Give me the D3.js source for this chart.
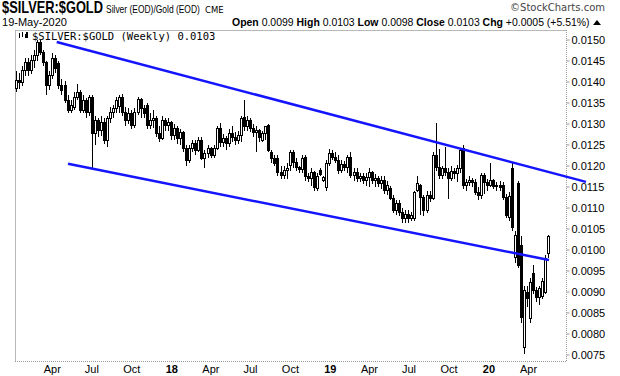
<!DOCTYPE html>
<html>
<head>
<meta charset="utf-8">
<script src="https://cdn.jsdelivr.net/npm/d3@7"></script>
<style>
  body { margin: 0; background: #fff; }
  svg { display: block; }
</style>
</head>
<body>
<div id="chart"></div>
<script>
// Weekly $SILVER:$GOLD candles, first bar = week ending 13-Jan-2017
const firstWeek = "2017-01-13";

const opens = [
  0.01383,0.01402,0.01398,0.01426,0.01445,0.01426,0.01450,0.01462,0.01493,0.01469,
  0.01445,0.01390,0.01414,0.01455,0.01443,0.01390,0.01390,0.01355,0.01331,0.01338,
  0.01362,0.01374,0.01331,0.01355,0.01326,0.01362,0.01276,0.01307,0.01283,0.01302,
  0.01260,0.01312,0.01326,0.01336,0.01340,0.01362,0.01326,0.01307,0.01324,0.01295,
  0.01326,0.01357,0.01336,0.01343,0.01295,0.01307,0.01312,0.01276,0.01264,0.01307,
  0.01295,0.01302,0.01271,0.01288,0.01264,0.01279,0.01240,0.01212,0.01240,0.01252,
  0.01236,0.01260,0.01217,0.01229,0.01240,0.01224,0.01240,0.01288,0.01255,0.01264,
  0.01252,0.01276,0.01267,0.01260,0.01271,0.01314,0.01293,0.01307,0.01288,0.01279,
  0.01283,0.01260,0.01276,0.01295,0.01231,0.01217,0.01217,0.01183,0.01176,0.01188,
  0.01200,0.01231,0.01207,0.01195,0.01190,0.01219,0.01174,0.01169,0.01183,0.01145,
  0.01188,0.01164,0.01148,0.01205,0.01229,0.01219,0.01212,0.01188,0.01202,0.01195,
  0.01219,0.01176,0.01183,0.01169,0.01174,0.01164,0.01171,0.01183,0.01164,0.01169,
  0.01157,0.01164,0.01140,0.01145,0.01121,0.01093,0.01110,0.01088,0.01074,0.01083,
  0.01074,0.01074,0.01140,0.01152,0.01124,0.01093,0.01129,0.01121,0.01224,0.01195,
  0.01176,0.01193,0.01183,0.01169,0.01186,0.01181,0.01193,0.01240,0.01152,0.01160,
  0.01164,0.01160,0.01136,0.01129,0.01176,0.01160,0.01152,0.01164,0.01150,0.01152,
  0.01152,0.01124,0.01076,0.01193,0.00981,0.01157,0.01010,0.00767,0.00898,0.00836,
  0.00943,0.00902,0.00886,0.00888,0.00898,0.00990
];
const highs = [
  0.01426,0.01421,0.01438,0.01455,0.01455,0.01462,0.01474,0.01498,0.01498,0.01474,
  0.01450,0.01426,0.01469,0.01462,0.01450,0.01407,0.01402,0.01367,0.01355,0.01374,
  0.01395,0.01379,0.01367,0.01360,0.01367,0.01369,0.01319,0.01314,0.01317,0.01312,
  0.01319,0.01340,0.01345,0.01364,0.01369,0.01371,0.01340,0.01336,0.01331,0.01336,
  0.01364,0.01360,0.01345,0.01350,0.01326,0.01331,0.01319,0.01295,0.01319,0.01314,
  0.01312,0.01307,0.01300,0.01295,0.01288,0.01283,0.01248,0.01248,0.01260,0.01260,
  0.01269,0.01267,0.01236,0.01248,0.01245,0.01250,0.01295,0.01302,0.01276,0.01271,
  0.01288,0.01293,0.01279,0.01283,0.01319,0.01357,0.01319,0.01314,0.01298,0.01293,
  0.01288,0.01283,0.01295,0.01300,0.01236,0.01224,0.01224,0.01200,0.01200,0.01207,
  0.01236,0.01236,0.01217,0.01200,0.01224,0.01224,0.01183,0.01193,0.01188,0.01181,
  0.01195,0.01176,0.01212,0.01240,0.01236,0.01231,0.01224,0.01212,0.01210,0.01224,
  0.01233,0.01193,0.01193,0.01183,0.01183,0.01181,0.01193,0.01188,0.01179,0.01174,
  0.01174,0.01174,0.01164,0.01152,0.01129,0.01117,0.01117,0.01100,0.01093,0.01093,
  0.01090,0.01140,0.01176,0.01157,0.01129,0.01140,0.01140,0.01231,0.01302,0.01240,
  0.01200,0.01243,0.01193,0.01198,0.01195,0.01202,0.01240,0.01248,0.01169,0.01174,
  0.01171,0.01169,0.01150,0.01183,0.01181,0.01169,0.01207,0.01169,0.01160,0.01164,
  0.01160,0.01131,0.01136,0.01207,0.01045,0.01164,0.01031,0.00914,0.00914,0.00931,
  0.00962,0.00910,0.00914,0.00931,0.00986,0.01034
];
const lows = [
  0.01374,0.01383,0.01390,0.01414,0.01414,0.01417,0.01431,0.01450,0.01462,0.01438,
  0.01367,0.01379,0.01407,0.01421,0.01383,0.01367,0.01348,0.01324,0.01324,0.01331,
  0.01355,0.01324,0.01326,0.01312,0.01319,0.01193,0.01248,0.01267,0.01271,0.01252,
  0.01245,0.01302,0.01312,0.01326,0.01324,0.01317,0.01295,0.01298,0.01288,0.01290,
  0.01321,0.01312,0.01312,0.01288,0.01288,0.01290,0.01267,0.01255,0.01260,0.01283,
  0.01283,0.01260,0.01260,0.01252,0.01248,0.01231,0.01200,0.01205,0.01231,0.01224,
  0.01231,0.01212,0.01195,0.01217,0.01217,0.01219,0.01236,0.01245,0.01243,0.01236,
  0.01245,0.01255,0.01248,0.01252,0.01255,0.01283,0.01283,0.01279,0.01267,0.01231,
  0.01255,0.01255,0.01260,0.01231,0.01207,0.01198,0.01174,0.01169,0.01169,0.01169,
  0.01188,0.01193,0.01188,0.01183,0.01183,0.01164,0.01160,0.01152,0.01140,0.01140,
  0.01174,0.01160,0.01140,0.01200,0.01212,0.01205,0.01179,0.01183,0.01188,0.01183,
  0.01171,0.01164,0.01160,0.01160,0.01155,0.01152,0.01150,0.01155,0.01150,0.01150,
  0.01145,0.01133,0.01129,0.01117,0.01086,0.01083,0.01079,0.01064,0.01064,0.01064,
  0.01067,0.01069,0.01136,0.01081,0.01079,0.01088,0.01112,0.01119,0.01188,0.01169,
  0.01169,0.01174,0.01121,0.01164,0.01169,0.01160,0.01183,0.01145,0.01140,0.01152,
  0.01150,0.01129,0.01119,0.01121,0.01133,0.01140,0.01148,0.01145,0.01140,0.01140,
  0.01117,0.01074,0.01069,0.01045,0.00969,0.00955,0.00826,0.00752,0.00862,0.00824,
  0.00895,0.00876,0.00869,0.00881,0.00893,0.00980
];
const closes = [
  0.01402,0.01398,0.01426,0.01445,0.01426,0.01450,0.01462,0.01493,0.01469,0.01445,
  0.01390,0.01414,0.01455,0.01431,0.01390,0.01379,0.01355,0.01331,0.01343,0.01362,
  0.01374,0.01331,0.01355,0.01326,0.01362,0.01276,0.01307,0.01283,0.01302,0.01260,
  0.01312,0.01326,0.01336,0.01355,0.01362,0.01326,0.01307,0.01324,0.01295,0.01326,
  0.01357,0.01336,0.01324,0.01295,0.01307,0.01312,0.01276,0.01264,0.01307,0.01295,
  0.01302,0.01271,0.01288,0.01264,0.01279,0.01240,0.01212,0.01240,0.01252,0.01236,
  0.01260,0.01217,0.01229,0.01240,0.01224,0.01240,0.01288,0.01255,0.01264,0.01252,
  0.01276,0.01267,0.01260,0.01271,0.01312,0.01293,0.01307,0.01288,0.01279,0.01283,
  0.01267,0.01276,0.01293,0.01236,0.01217,0.01205,0.01183,0.01176,0.01188,0.01193,
  0.01231,0.01207,0.01195,0.01190,0.01217,0.01174,0.01169,0.01183,0.01148,0.01174,
  0.01179,0.01171,0.01205,0.01229,0.01219,0.01212,0.01188,0.01202,0.01195,0.01219,
  0.01176,0.01183,0.01169,0.01174,0.01164,0.01171,0.01183,0.01164,0.01169,0.01157,
  0.01164,0.01140,0.01152,0.01121,0.01093,0.01110,0.01088,0.01074,0.01083,0.01074,
  0.01081,0.01136,0.01157,0.01124,0.01093,0.01129,0.01121,0.01224,0.01195,0.01176,
  0.01193,0.01183,0.01169,0.01186,0.01181,0.01193,0.01236,0.01152,0.01160,0.01164,
  0.01160,0.01136,0.01129,0.01176,0.01160,0.01152,0.01164,0.01150,0.01152,0.01148,
  0.01124,0.01081,0.01126,0.01052,0.01033,0.00962,0.00838,0.00902,0.00883,0.00921,
  0.00902,0.00886,0.00907,0.00924,0.00979,0.01030
];

// trend lines drawn on the chart: [date, value] end points
const upperTrend = [["2017-04-17", 0.01494], ["2020-08-17", 0.01161]];
const lowerTrend = [["2017-05-13", 0.01204], ["2020-05-24", 0.00975]];

// header texts
const symbol = "$SILVER:$GOLD";
const symbolDesc = "Silver (EOD)/Gold (EOD)";
const exchange = "CME";
const headerDate = "19-May-2020";
const quote = [["Open", "0.0099"], ["High", "0.0103"], ["Low", "0.0098"], ["Close", "0.0103"], ["Chg", "+0.0005 (+5.51%)"]];
const legendText = "$SILVER:$GOLD (Weekly) 0.0103";

const width = 620, height = 376;
const plot = { left: 15, right: 566, top: 30, bottom: 361 };

const parse = d3.timeParse("%Y-%m-%d");
const start = parse(firstWeek);
const data = closes.map((c, i) => ({
  date: d3.timeDay.offset(start, 7 * i),
  open: opens[i], high: highs[i], low: lows[i], close: c
}));

const svg = d3.select("#chart").append("svg")
  .attr("width", width)
  .attr("height", height)
  .style("font-family", "'Liberation Sans', Arial, sans-serif");

const x = d3.scaleTime()
  .domain([parse("2017-01-11"), parse("2020-07-02")])
  .range([plot.left, plot.right]);

const y = d3.scaleLinear()
  .domain([0.0075, 0.0150])
  .range([354.5, 39.5]);

// ---- header: narrow type made by squeezing the text horizontally ----
function fitText(sel, px, py, target, sy) {
  const len = sel.node().getComputedTextLength();
  sel.attr("transform", `translate(${px},${py}) scale(${target / len},${sy || 1})`);
  return sel;
}
const title = svg.append("text").style("font-size", "15px").style("font-weight", "bold").text(symbol);
fitText(title, 2, 13, 101, 1.08);
const desc = svg.append("text").style("font-size", "11px").text(symbolDesc);
fitText(desc, 106, 13, 94);
svg.append("text")
  .attr("x", 205).attr("y", 13)
  .style("font-family", "'DejaVu Sans', sans-serif").style("font-size", "8.5px")
  .text(exchange);
svg.append("text")
  .attr("x", 605).attr("y", 11)
  .attr("text-anchor", "end")
  .style("font-family", "'DejaVu Sans', sans-serif").style("font-size", "10px").style("fill", "#444")
  .text("\u00A9StockCharts.com");
const dateText = svg.append("text").style("font-size", "11px").text(headerDate);
fitText(dateText, 2, 26, 65);

const q = svg.append("text").style("font-size", "11.5px");
quote.forEach((d, i) => {
  q.append("tspan").style("font-weight", "bold").text((i ? " " : "") + d[0] + " ");
  q.append("tspan").text(d[1]);
});
fitText(q, 232, 26, 358);
svg.append("path")
  .attr("d", "M593,25 L597,20 L601,25 Z")
  .attr("fill", "#000");

// ---- frame ----
const frame = svg.append("g").attr("shape-rendering", "crispEdges");
frame.append("line")
  .attr("x1", plot.left + 0.5).attr("x2", plot.left + 0.5)
  .attr("y1", plot.top).attr("y2", plot.bottom)
  .attr("stroke", "#b8b8b8");
frame.append("line")
  .attr("x1", plot.left).attr("x2", plot.right)
  .attr("y1", plot.top + 0.5).attr("y2", plot.top + 0.5)
  .attr("stroke", "#b8b8b8");
frame.append("line")
  .attr("x1", plot.right + 0.5).attr("x2", plot.right + 0.5)
  .attr("y1", plot.top).attr("y2", plot.bottom)
  .attr("stroke", "#999").attr("stroke-dasharray", "1,1");
frame.append("line")
  .attr("x1", plot.left).attr("x2", plot.right)
  .attr("y1", plot.bottom + 0.5).attr("y2", plot.bottom + 0.5)
  .attr("stroke", "#999").attr("stroke-dasharray", "1,1");

// ---- axes ----
const yAxis = svg.append("g")
  .attr("transform", `translate(${plot.right + 0.5},0)`)
  .call(d3.axisRight(y).ticks(15).tickFormat(d3.format(".4f")).tickSize(3).tickPadding(2));
yAxis.select(".domain").remove();
yAxis.selectAll(".tick line").attr("stroke", "#999");
yAxis.selectAll("text").style("font-size", "11px").attr("fill", "#000");

const lastBar = data[data.length - 1].date;
const monthTicks = x.ticks(d3.timeMonth.every(3)).filter(d => d <= lastBar);
const xAxis = svg.append("g")
  .attr("transform", `translate(2,${plot.bottom})`)
  .call(d3.axisBottom(x)
    .tickValues(monthTicks)
    .tickFormat(d => d.getMonth() === 0 ? d3.timeFormat("%y")(d) : d3.timeFormat("%b")(d))
    .tickSize(0).tickPadding(4));
xAxis.select(".domain").remove();
xAxis.selectAll("text")
  .style("font-size", "11px")
  .style("font-weight", d => d.getMonth() === 0 ? "bold" : "normal")
  .attr("fill", "#000");

// ---- legend inside the plot ----
const icon = svg.append("g").attr("shape-rendering", "crispEdges");
[[19, 33, 38], [22, 32, 37], [25, 34, 38]].forEach(([ix, t, b]) => {
  icon.append("line").attr("x1", ix + 0.5).attr("x2", ix + 0.5).attr("y1", t).attr("y2", b).attr("stroke", "#000");
});
icon.append("rect").attr("x", 26).attr("y", 32).attr("width", 2).attr("height", 6).attr("fill", "#000");
svg.append("text")
  .attr("x", 32).attr("y", 39.5)
  .style("font-family", "'DejaVu Sans Mono', monospace").style("font-size", "10.5px")
  .text(legendText);

// ---- candles ----
const candles = svg.append("g").attr("shape-rendering", "crispEdges");
const bar = candles.selectAll("g.bar").data(data).enter().append("g").attr("class", "bar");
bar.append("line")
  .attr("x1", d => Math.round(x(d.date)) + 0.5)
  .attr("x2", d => Math.round(x(d.date)) + 0.5)
  .attr("y1", d => y(d.high))
  .attr("y2", d => y(d.low))
  .attr("stroke", "#000");
bar.append("rect")
  .attr("x", d => Math.round(x(d.date)) - 0.5)
  .attr("width", 2)
  .attr("y", d => y(Math.max(d.open, d.close)))
  .attr("height", d => Math.max(1, Math.abs(y(d.open) - y(d.close))))
  .attr("fill", d => d.close >= d.open ? "#fff" : "#000")
  .attr("stroke", "#000");

// ---- trend lines ----
[upperTrend, lowerTrend].forEach(t => {
  svg.append("line")
    .attr("x1", x(parse(t[0][0]))).attr("y1", y(t[0][1]))
    .attr("x2", x(parse(t[1][0]))).attr("y2", y(t[1][1]))
    .attr("stroke", "#1414ff")
    .attr("stroke-width", 2.5);
});
</script>
</body>
</html>
